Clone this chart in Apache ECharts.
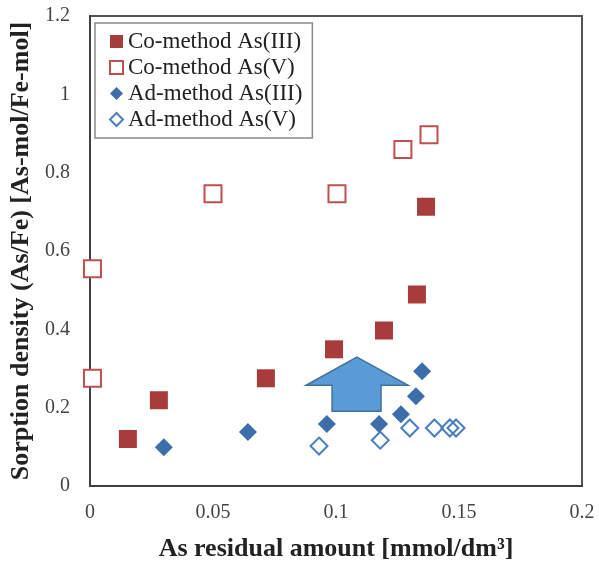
<!DOCTYPE html>
<html>
<head>
<meta charset="utf-8">
<script src="https://cdn.jsdelivr.net/npm/echarts@6/dist/echarts.min.js"></script>
<style>
  html, body { margin: 0; padding: 0; background: #fff; }
  #chart { width: 599px; height: 563px; }
</style>
</head>
<body>
<div id="chart"></div>
<script>
// Series names
const seriesNames = ['Co-method As(III)', 'Co-method As(V)', 'Ad-method As(III)', 'Ad-method As(V)'];

// [residual As (mmol/dm3), sorption density (As/Fe)]
const coAs3 = [[0.0154, 0.120], [0.0280, 0.219], [0.0715, 0.275], [0.0992, 0.349], [0.1195, 0.397], [0.1329, 0.489], [0.1366, 0.713]];
const coAs5 = [[0.001, 0.275], [0.001, 0.555], [0.050, 0.746], [0.1004, 0.746], [0.1272, 0.859], [0.1378, 0.897]];
const adAs3 = [[0.030, 0.099], [0.0642, 0.138], [0.0963, 0.158], [0.1175, 0.158], [0.1264, 0.183], [0.1325, 0.229], [0.135, 0.293]];
const adAs5 = [[0.0931, 0.102], [0.118, 0.117], [0.130, 0.148], [0.140, 0.148], [0.1463, 0.148], [0.1488, 0.148]];

// Up-arrow annotation outline, in data coordinates
const arrowOutline = [[0.1085, 0.329], [0.1293, 0.257], [0.1183, 0.257], [0.1183, 0.191], [0.0984, 0.191], [0.0984, 0.257], [0.0878, 0.257]];

// Axis ranges
const xRange = { min: 0, max: 0.2, interval: 0.05 };
const yRange = { min: 0, max: 1.2, interval: 0.2 };

const serif = 'Liberation Serif';
const red = '#A83C3C';
const redLine = '#C0504D';
const blue = '#3E6DAB';
const blueLine = '#4A7EC0';

const chart = echarts.init(document.getElementById('chart'));
chart.setOption({
  backgroundColor: '#fff',
  animation: false,
  grid: {
    left: 90, right: 17, top: 16, bottom: 77,
    outerBoundsMode: 'none',
    containLabel: false,
    show: true, borderColor: '#555', borderWidth: 2
  },
  legend: {
    data: seriesNames,
    orient: 'vertical',
    left: 95, top: 23,
    padding: [7, 10, 7, 14],
    itemGap: 3,
    itemWidth: 13, itemHeight: 13,
    backgroundColor: '#fff',
    borderColor: '#8a8a8a', borderWidth: 1.5,
    textStyle: { fontFamily: serif, fontSize: 23, color: '#222' }
  },
  xAxis: {
    type: 'value',
    min: xRange.min, max: xRange.max, interval: xRange.interval,
    name: 'As residual amount [mmol/dm³]',
    nameLocation: 'middle', nameGap: 50,
    nameTextStyle: { fontFamily: serif, fontSize: 26, fontWeight: 'bold', color: '#222' },
    axisLine: { lineStyle: { color: '#404040', width: 2 } },
    axisTick: { show: false },
    splitLine: { show: false },
    axisLabel: { fontFamily: serif, fontSize: 20, color: '#444', margin: 17 }
  },
  yAxis: {
    type: 'value',
    min: yRange.min, max: yRange.max, interval: yRange.interval,
    name: 'Sorption density (As/Fe) [As-mol/Fe-mol]',
    nameLocation: 'middle', nameGap: 55,
    nameTextStyle: { fontFamily: serif, fontSize: 26, fontWeight: 'bold', color: '#222' },
    axisLine: { lineStyle: { color: '#404040', width: 2 } },
    axisTick: { show: false },
    splitLine: { show: false },
    axisLabel: { fontFamily: serif, fontSize: 20, color: '#444', margin: 20 }
  },
  series: [
    {
      name: seriesNames[0], type: 'scatter', data: coAs3,
      symbol: 'rect', symbolSize: 18,
      itemStyle: { color: red, opacity: 1 }
    },
    {
      name: seriesNames[1], type: 'scatter', data: coAs5,
      symbol: 'rect', symbolSize: 17,
      itemStyle: { color: '#fff', borderColor: redLine, borderWidth: 2, opacity: 1 }
    },
    {
      name: seriesNames[2], type: 'scatter', data: adAs3,
      symbol: 'diamond', symbolSize: [18, 18],
      itemStyle: { color: blue, opacity: 1 }
    },
    {
      name: seriesNames[3], type: 'scatter', data: adAs5,
      symbol: 'diamond', symbolSize: [17, 17],
      itemStyle: { color: 'rgba(255,255,255,0)', borderColor: blueLine, borderWidth: 2, opacity: 1 }
    },
    {
      name: 'arrow', type: 'custom', silent: true,
      data: [arrowOutline[0]],
      renderItem: function (params, api) {
        return {
          type: 'polygon',
          shape: { points: arrowOutline.map(function (p) { return api.coord(p); }) },
          style: { fill: '#5B9BD5', stroke: '#41719C', lineWidth: 1.5 }
        };
      }
    }
  ]
});
</script>
</body>
</html>
